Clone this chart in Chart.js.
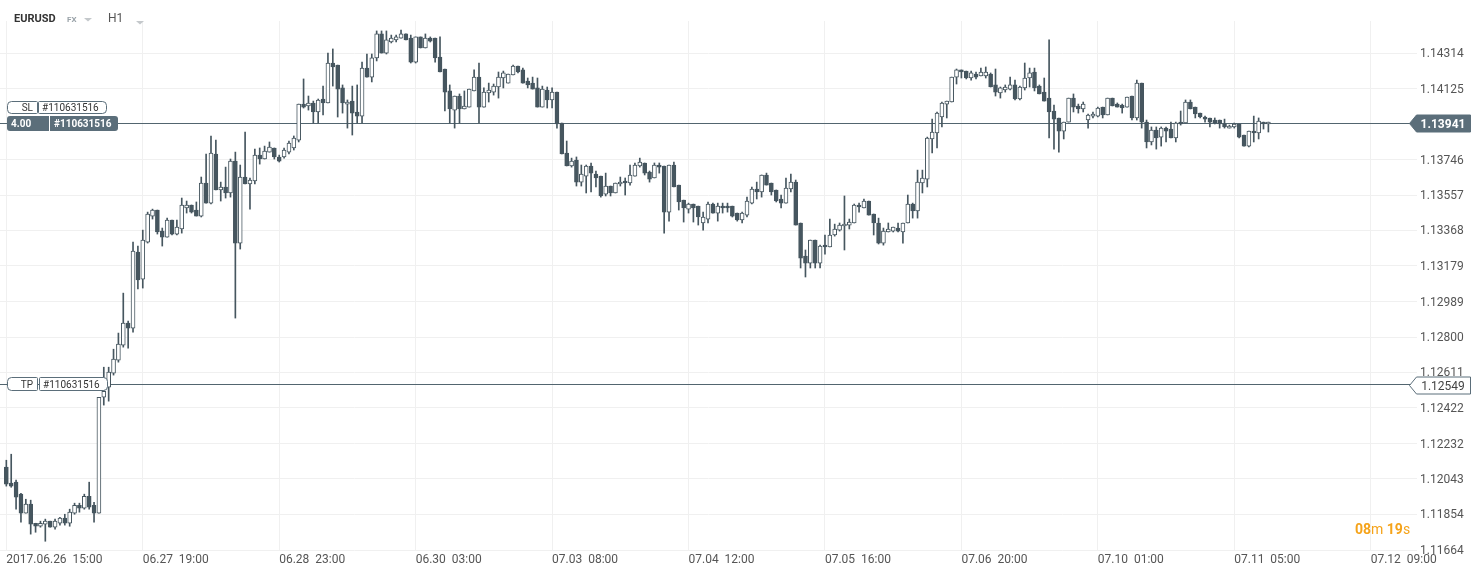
<!DOCTYPE html>
<html>
<head>
<meta charset="utf-8">
<title>EURUSD H1</title>
<script src="https://cdn.jsdelivr.net/npm/chart.js@4.4.1/dist/chart.umd.min.js"></script>
<style>
  html, body { margin: 0; padding: 0; background: #fff; }
</style>
</head>
<body>
<canvas id="chart" width="1481" height="575"></canvas>
<script>
// hourly candles, 2017.06.26 15:00 -> 07.11 ~07:00
const opens = [
  1.12106, 1.12021, 1.12026, 1.11962, 1.11861, 1.11909, 1.11807, 1.11791, 1.11802, 1.11818,
  1.11786, 1.11807, 1.11834, 1.11807, 1.11861, 1.11903, 1.11887, 1.11951, 1.11903, 1.11861,
  1.12479, 1.12533, 1.12607, 1.12677, 1.12757, 1.12874, 1.12847, 1.13253, 1.13109, 1.13306,
  1.13445, 1.13477, 1.13365, 1.13333, 1.13424, 1.13349, 1.13376, 1.13488, 1.13504, 1.13477,
  1.13445, 1.13621, 1.13514, 1.13776, 1.13584, 1.13600, 1.13568, 1.13738, 1.13301, 1.13653,
  1.13616, 1.13632, 1.13770, 1.13749, 1.13786, 1.13808, 1.13760, 1.13760, 1.13786, 1.13808,
  1.13850, 1.14042, 1.14032, 1.14048, 1.14000, 1.14069, 1.14048, 1.14261, 1.14250, 1.14128,
  1.14042, 1.14058, 1.14000, 1.13978, 1.14234, 1.14186, 1.14288, 1.14416, 1.14314, 1.14373,
  1.14384, 1.14394, 1.14416, 1.14394, 1.14266, 1.14400, 1.14341, 1.14394, 1.14394, 1.14293,
  1.14229, 1.14112, 1.14010, 1.14085, 1.14016, 1.14026, 1.14112, 1.14186, 1.14026, 1.14101,
  1.14106, 1.14133, 1.14181, 1.14154, 1.14197, 1.14245, 1.14224, 1.14165, 1.14154, 1.14128,
  1.14026, 1.14117, 1.14064, 1.14106, 1.13941, 1.13781, 1.13712, 1.13744, 1.13626, 1.13658,
  1.13712, 1.13669, 1.13658, 1.13562, 1.13605, 1.13568, 1.13616, 1.13632, 1.13621, 1.13658,
  1.13712, 1.13728, 1.13680, 1.13648, 1.13717, 1.13712, 1.13466, 1.13717, 1.13610, 1.13530,
  1.13482, 1.13509, 1.13498, 1.13408, 1.13429, 1.13509, 1.13461, 1.13498, 1.13498, 1.13498,
  1.13461, 1.13424, 1.13450, 1.13514, 1.13589, 1.13573, 1.13664, 1.13621, 1.13584, 1.13536,
  1.13514, 1.13589, 1.13626, 1.13408, 1.13232, 1.13194, 1.13317, 1.13194, 1.13290, 1.13280,
  1.13344, 1.13370, 1.13392, 1.13397, 1.13408, 1.13504, 1.13488, 1.13525, 1.13456, 1.13408,
  1.13301, 1.13360, 1.13365, 1.13381, 1.13360, 1.13408, 1.13509, 1.13472, 1.13621, 1.13642,
  1.13856, 1.13888, 1.13973, 1.14042, 1.14053, 1.14186, 1.14224, 1.14218, 1.14181, 1.14202,
  1.14192, 1.14192, 1.14202, 1.14144, 1.14101, 1.14117, 1.14122, 1.14144, 1.14069, 1.14128,
  1.14181, 1.14213, 1.14138, 1.14106, 1.14074, 1.14005, 1.13968, 1.13898, 1.13946, 1.14074,
  1.14032, 1.14016, 1.13957, 1.13978, 1.13978, 1.14026, 1.13984, 1.14074, 1.14042, 1.14037,
  1.14026, 1.14085, 1.13968, 1.14154, 1.13946, 1.13840, 1.13904, 1.13866, 1.13914, 1.13909,
  1.13861, 1.13946, 1.13941, 1.14053, 1.14026, 1.13994, 1.13973, 1.13968, 1.13957, 1.13957,
  1.13936, 1.13914, 1.13920, 1.13936, 1.13877, 1.13818, 1.13898, 1.13888, 1.13946, 1.13936
];
const highs = [
  1.12143, 1.12175, 1.12037, 1.11967, 1.11935, 1.11930, 1.11807, 1.11818, 1.11829, 1.11818,
  1.11829, 1.11839, 1.11855, 1.11882, 1.11914, 1.11914, 1.11962, 1.12026, 1.11919, 1.12479,
  1.12639, 1.12639, 1.12735, 1.12821, 1.13034, 1.12885, 1.13306, 1.13285, 1.13370, 1.13466,
  1.13482, 1.13477, 1.13381, 1.13434, 1.13424, 1.13424, 1.13541, 1.13525, 1.13504, 1.13520,
  1.13653, 1.13776, 1.13872, 1.13850, 1.13626, 1.13706, 1.13749, 1.13786, 1.13717, 1.13893,
  1.13648, 1.13802, 1.13808, 1.13818, 1.13840, 1.13808, 1.13770, 1.13808, 1.13845, 1.13872,
  1.14042, 1.14176, 1.14085, 1.14058, 1.14069, 1.14138, 1.14314, 1.14336, 1.14250, 1.14144,
  1.14064, 1.14138, 1.14144, 1.14266, 1.14309, 1.14309, 1.14432, 1.14432, 1.14432, 1.14410,
  1.14410, 1.14437, 1.14416, 1.14410, 1.14400, 1.14400, 1.14416, 1.14400, 1.14394, 1.14400,
  1.14229, 1.14144, 1.14085, 1.14096, 1.14112, 1.14122, 1.14224, 1.14261, 1.14128, 1.14154,
  1.14149, 1.14213, 1.14218, 1.14202, 1.14250, 1.14245, 1.14234, 1.14181, 1.14186, 1.14181,
  1.14138, 1.14133, 1.14128, 1.14106, 1.13941, 1.13845, 1.13754, 1.13760, 1.13717, 1.13717,
  1.13728, 1.13685, 1.13658, 1.13674, 1.13605, 1.13621, 1.13653, 1.13648, 1.13717, 1.13728,
  1.13754, 1.13728, 1.13685, 1.13728, 1.13728, 1.13712, 1.13717, 1.13733, 1.13610, 1.13530,
  1.13514, 1.13509, 1.13498, 1.13466, 1.13520, 1.13514, 1.13514, 1.13514, 1.13514, 1.13498,
  1.13461, 1.13466, 1.13546, 1.13600, 1.13626, 1.13664, 1.13674, 1.13621, 1.13584, 1.13557,
  1.13648, 1.13669, 1.13637, 1.13408, 1.13264, 1.13317, 1.13317, 1.13290, 1.13344, 1.13429,
  1.13402, 1.13408, 1.13552, 1.13429, 1.13509, 1.13514, 1.13536, 1.13525, 1.13456, 1.13434,
  1.13381, 1.13408, 1.13386, 1.13408, 1.13408, 1.13557, 1.13514, 1.13690, 1.13690, 1.13866,
  1.13962, 1.14000, 1.14053, 1.14058, 1.14186, 1.14229, 1.14224, 1.14218, 1.14218, 1.14213,
  1.14234, 1.14240, 1.14208, 1.14229, 1.14133, 1.14144, 1.14186, 1.14170, 1.14138, 1.14261,
  1.14234, 1.14234, 1.14144, 1.14181, 1.14384, 1.14037, 1.13968, 1.13946, 1.14074, 1.14096,
  1.14042, 1.14053, 1.13989, 1.14000, 1.14026, 1.14026, 1.14074, 1.14074, 1.14048, 1.14042,
  1.14080, 1.14085, 1.14170, 1.14154, 1.13957, 1.13920, 1.13920, 1.13920, 1.13920, 1.13946,
  1.13946, 1.14005, 1.14064, 1.14064, 1.14026, 1.13994, 1.13978, 1.13968, 1.13968, 1.13957,
  1.13962, 1.13930, 1.13941, 1.13936, 1.13877, 1.13898, 1.13978, 1.13968, 1.13946, 1.13946
];
const lows = [
  1.12005, 1.11999, 1.11882, 1.11813, 1.11861, 1.11749, 1.11759, 1.11786, 1.11711, 1.11786,
  1.11775, 1.11797, 1.11797, 1.11791, 1.11855, 1.11866, 1.11882, 1.11882, 1.11813, 1.11861,
  1.12437, 1.12458, 1.12597, 1.12666, 1.12746, 1.12741, 1.12826, 1.13056, 1.13061, 1.13301,
  1.13429, 1.13349, 1.13285, 1.13333, 1.13344, 1.13344, 1.13354, 1.13461, 1.13461, 1.13445,
  1.13440, 1.13514, 1.13509, 1.13584, 1.13525, 1.13541, 1.13546, 1.12901, 1.13269, 1.13616,
  1.13482, 1.13616, 1.13722, 1.13749, 1.13786, 1.13749, 1.13733, 1.13754, 1.13776, 1.13797,
  1.13840, 1.14021, 1.14010, 1.13941, 1.13941, 1.13984, 1.14048, 1.14138, 1.13973, 1.13994,
  1.13914, 1.13877, 1.13941, 1.13941, 1.14186, 1.14160, 1.14272, 1.14314, 1.14309, 1.14368,
  1.14373, 1.14394, 1.14384, 1.14261, 1.14261, 1.14341, 1.14341, 1.14373, 1.14266, 1.14213,
  1.14005, 1.13941, 1.13914, 1.13941, 1.14016, 1.14026, 1.14112, 1.13941, 1.14026, 1.14053,
  1.14090, 1.14074, 1.14128, 1.14154, 1.14197, 1.14208, 1.14154, 1.14128, 1.14122, 1.14026,
  1.14026, 1.14021, 1.14021, 1.13914, 1.13776, 1.13712, 1.13706, 1.13605, 1.13605, 1.13568,
  1.13573, 1.13600, 1.13546, 1.13552, 1.13552, 1.13568, 1.13605, 1.13557, 1.13610, 1.13658,
  1.13706, 1.13664, 1.13626, 1.13648, 1.13674, 1.13354, 1.13418, 1.13600, 1.13477, 1.13413,
  1.13461, 1.13413, 1.13397, 1.13370, 1.13408, 1.13461, 1.13418, 1.13461, 1.13466, 1.13440,
  1.13418, 1.13408, 1.13440, 1.13509, 1.13536, 1.13546, 1.13610, 1.13557, 1.13520, 1.13488,
  1.13514, 1.13573, 1.13397, 1.13168, 1.13120, 1.13168, 1.13168, 1.13168, 1.13242, 1.13280,
  1.13338, 1.13365, 1.13264, 1.13376, 1.13408, 1.13466, 1.13488, 1.13450, 1.13344, 1.13296,
  1.13290, 1.13360, 1.13360, 1.13360, 1.13301, 1.13408, 1.13434, 1.13434, 1.13568, 1.13600,
  1.13781, 1.13808, 1.13920, 1.13968, 1.14053, 1.14149, 1.14181, 1.14176, 1.14170, 1.14176,
  1.14192, 1.14181, 1.14133, 1.14085, 1.14074, 1.14106, 1.14117, 1.14064, 1.14064, 1.14117,
  1.14133, 1.14112, 1.14096, 1.14058, 1.13861, 1.13802, 1.13786, 1.13856, 1.13946, 1.14000,
  1.13994, 1.14000, 1.13914, 1.13968, 1.13973, 1.13968, 1.13984, 1.14032, 1.14026, 1.13994,
  1.14026, 1.13957, 1.13957, 1.13914, 1.13808, 1.13824, 1.13802, 1.13818, 1.13840, 1.13861,
  1.13840, 1.13930, 1.13941, 1.14016, 1.13968, 1.13968, 1.13946, 1.13920, 1.13936, 1.13914,
  1.13914, 1.13914, 1.13914, 1.13861, 1.13818, 1.13813, 1.13840, 1.13856, 1.13909, 1.13893
];
const closes = [
  1.12015, 1.12005, 1.11946, 1.11861, 1.11909, 1.11802, 1.11791, 1.11807, 1.11818, 1.11786,
  1.11818, 1.11834, 1.11807, 1.11866, 1.11903, 1.11887, 1.11951, 1.11893, 1.11861, 1.12479,
  1.12511, 1.12613, 1.12682, 1.12762, 1.12874, 1.12847, 1.13258, 1.13104, 1.13317, 1.13456,
  1.13477, 1.13360, 1.13333, 1.13424, 1.13349, 1.13386, 1.13504, 1.13504, 1.13466, 1.13445,
  1.13621, 1.13514, 1.13781, 1.13584, 1.13600, 1.13568, 1.13738, 1.13301, 1.13653, 1.13616,
  1.13637, 1.13770, 1.13749, 1.13792, 1.13813, 1.13760, 1.13738, 1.13797, 1.13834, 1.13861,
  1.14042, 1.14026, 1.14048, 1.14000, 1.14064, 1.14048, 1.14261, 1.14240, 1.14122, 1.14048,
  1.14053, 1.13994, 1.13978, 1.14234, 1.14186, 1.14288, 1.14416, 1.14314, 1.14384, 1.14394,
  1.14400, 1.14416, 1.14384, 1.14266, 1.14400, 1.14341, 1.14394, 1.14378, 1.14288, 1.14213,
  1.14106, 1.14016, 1.14085, 1.14016, 1.14032, 1.14122, 1.14186, 1.14026, 1.14106, 1.14117,
  1.14138, 1.14186, 1.14208, 1.14202, 1.14245, 1.14213, 1.14154, 1.14144, 1.14122, 1.14026,
  1.14122, 1.14064, 1.14106, 1.13936, 1.13776, 1.13712, 1.13738, 1.13626, 1.13669, 1.13712,
  1.13674, 1.13648, 1.13552, 1.13605, 1.13568, 1.13621, 1.13626, 1.13621, 1.13664, 1.13717,
  1.13733, 1.13674, 1.13642, 1.13717, 1.13706, 1.13466, 1.13717, 1.13600, 1.13520, 1.13488,
  1.13509, 1.13488, 1.13440, 1.13440, 1.13509, 1.13461, 1.13498, 1.13488, 1.13488, 1.13445,
  1.13424, 1.13461, 1.13525, 1.13589, 1.13573, 1.13664, 1.13610, 1.13573, 1.13525, 1.13514,
  1.13594, 1.13626, 1.13397, 1.13221, 1.13194, 1.13317, 1.13194, 1.13285, 1.13280, 1.13344,
  1.13376, 1.13397, 1.13402, 1.13413, 1.13504, 1.13493, 1.13525, 1.13450, 1.13408, 1.13301,
  1.13365, 1.13376, 1.13386, 1.13365, 1.13408, 1.13509, 1.13472, 1.13626, 1.13648, 1.13861,
  1.13893, 1.13994, 1.14048, 1.14058, 1.14186, 1.14224, 1.14213, 1.14181, 1.14208, 1.14186,
  1.14213, 1.14213, 1.14133, 1.14106, 1.14128, 1.14133, 1.14144, 1.14069, 1.14133, 1.14181,
  1.14208, 1.14128, 1.14096, 1.14058, 1.14000, 1.13962, 1.13898, 1.13946, 1.14074, 1.14026,
  1.14016, 1.14042, 1.13984, 1.13989, 1.14021, 1.13984, 1.14074, 1.14032, 1.14026, 1.14021,
  1.14080, 1.13968, 1.14154, 1.13946, 1.13840, 1.13904, 1.13861, 1.13914, 1.13898, 1.13861,
  1.13941, 1.13936, 1.14053, 1.14016, 1.13989, 1.13973, 1.13962, 1.13946, 1.13941, 1.13936,
  1.13920, 1.13925, 1.13936, 1.13866, 1.13818, 1.13898, 1.13888, 1.13952, 1.13936, 1.13941
];

// time axis: one label every 28 candles
const timeTicks = [0, 28, 56, 84, 112, 140, 168, 196, 224, 252, 280];
const timeLabels = ['2017.06.26  15:00', '06.27  19:00', '06.28  23:00', '06.30  03:00', '07.03  08:00',
  '07.04  12:00', '07.05  16:00', '07.06  20:00', '07.10  01:00', '07.11  05:00', '07.12  09:00'];
const priceTicks = [1.14314, 1.14125, 1.13746, 1.13557, 1.13368, 1.13179, 1.12989, 1.12800,
  1.12611, 1.12422, 1.12232, 1.12043, 1.11854, 1.11664];

const symbol = 'EURUSD';
const orderId = '#110631516';
const volume = '4.00';
const slLevel = 1.13941;
const tpLevel = 1.12549;

const ink = '#46565f';
const tagInk = '#5b6e7a';
const font = 'Roboto, "Open Sans", Arial, sans-serif';

const idx = opens.map((_, i) => i);
const wicks = idx.map(i => ({x: i, y: [lows[i], highs[i]]}));
const bodies = idx.map(i => ({x: i, y: [opens[i], closes[i]]}));

function tagBox(ctx, x, y, w, h, radii, fill, stroke) {
    ctx.beginPath();
    ctx.roundRect(x, y, w, h, radii);
    ctx.fillStyle = fill;
    ctx.fill();
    if (stroke) {
        ctx.strokeStyle = stroke;
        ctx.lineWidth = 1;
        ctx.stroke();
    }
}

function priceTag(ctx, y, text, filled) {
    ctx.beginPath();
    ctx.moveTo(1409.5, y);
    ctx.lineTo(1416.5, y - 8.5);
    ctx.lineTo(1470.5, y - 8.5);
    ctx.lineTo(1470.5, y + 8.5);
    ctx.lineTo(1416.5, y + 8.5);
    ctx.closePath();
    ctx.fillStyle = filled ? tagInk : '#fff';
    ctx.fill();
    ctx.strokeStyle = tagInk;
    ctx.lineWidth = 1;
    ctx.stroke();
    ctx.fillStyle = filled ? '#fff' : '#444';
    ctx.font = (filled ? 'bold ' : '') + '12px ' + font;
    ctx.textAlign = 'center';
    ctx.textBaseline = 'middle';
    ctx.fillText(text, 1443, y + 1);
}

const overlay = {
    id: 'overlay',
    beforeDatasetsDraw(chart) {
        const ctx = chart.ctx;
        const y = chart.scales.y;
        ctx.save();
        ctx.strokeStyle = '#52656f';
        ctx.lineWidth = 1;
        [slLevel, tpLevel].forEach(v => {
            const py = Math.round(y.getPixelForValue(v)) + 0.5;
            ctx.beginPath();
            ctx.moveTo(0, py);
            ctx.lineTo(1412, py);
            ctx.stroke();
        });
        ctx.restore();
    },
    afterDraw(chart) {
        const ctx = chart.ctx;
        const y = chart.scales.y;
        const slY = Math.round(y.getPixelForValue(slLevel));
        const tpY = Math.round(y.getPixelForValue(tpLevel));
        ctx.save();

        // header
        ctx.textBaseline = 'middle';
        ctx.textAlign = 'left';
        ctx.fillStyle = '#333';
        ctx.font = 'bold 11px ' + font;
        ctx.fillText(symbol, 14, 19);
        ctx.fillStyle = '#9aa3a9';
        ctx.font = 'bold 8px ' + font;
        ctx.fillText('FX', 67, 20);
        ctx.fillStyle = '#555';
        ctx.font = '12px ' + font;
        ctx.fillText('H1', 108, 19);
        ctx.fillStyle = '#c4c8cb';
        [[84, 18], [136, 21]].forEach(([tx, ty]) => {
            ctx.beginPath();
            ctx.moveTo(tx, ty);
            ctx.lineTo(tx + 8, ty);
            ctx.lineTo(tx + 4, ty + 3.5);
            ctx.closePath();
            ctx.fill();
        });

        // SL tag
        ctx.font = '10px ' + font;
        tagBox(ctx, 7.5, slY - 21.5, 30, 12, [4, 1, 1, 4], '#fff', tagInk);
        tagBox(ctx, 38.5, slY - 21.5, 68, 12, [1, 4, 4, 1], '#fff', tagInk);
        ctx.fillStyle = '#333';
        ctx.textAlign = 'right';
        ctx.fillText('SL', 33, slY - 15);
        ctx.textAlign = 'left';
        ctx.fillText(orderId, 42, slY - 15);

        // position tag
        tagBox(ctx, 7, slY - 7, 111, 15, 3, tagInk, null);
        ctx.fillStyle = '#fff';
        ctx.fillRect(49, slY - 7, 1, 15);
        ctx.font = 'bold 10px ' + font;
        ctx.fillText(volume, 11, slY + 1);
        ctx.fillText(orderId, 54, slY + 1);

        // TP tag
        ctx.font = '10px ' + font;
        tagBox(ctx, 7.5, tpY - 6.5, 30, 13, [4, 1, 1, 4], '#fff', tagInk);
        tagBox(ctx, 39.5, tpY - 6.5, 68, 13, [1, 4, 4, 1], '#fff', tagInk);
        ctx.fillStyle = '#333';
        ctx.textAlign = 'right';
        ctx.fillText('TP', 33, tpY + 1);
        ctx.textAlign = 'left';
        ctx.fillText(orderId, 43, tpY + 1);

        // price tags on the axis
        priceTag(ctx, slY + 0.5, closes[closes.length - 1].toFixed(5), true);
        priceTag(ctx, tpY + 1.5, tpLevel.toFixed(5), false);

        // candle countdown
        ctx.textAlign = 'left';
        ctx.textBaseline = 'alphabetic';
        ctx.fillStyle = '#f5a31a';
        let tx = 1355;
        [['08', 'bold 14px '], ['m ', '14px '], ['19', 'bold 14px '], ['s', '14px ']].forEach(([t, f]) => {
            ctx.font = f + font;
            ctx.fillText(t, tx, 534);
            tx += ctx.measureText(t).width;
        });
        ctx.restore();
    }
};

new Chart(document.getElementById('chart'), {
    type: 'bar',
    data: {
        datasets: [
            {
                data: bodies,
                grouped: false,
                barThickness: 4,
                minBarLength: 2,
                borderWidth: 1,
                borderSkipped: false,
                borderColor: ink,
                backgroundColor: c => closes[c.dataIndex] >= opens[c.dataIndex] ? '#fff' : ink,
                order: 1
            },
            {
                data: wicks,
                grouped: false,
                barThickness: 1,
                borderWidth: 0,
                backgroundColor: ink,
                order: 2
            }
        ]
    },
    options: {
        responsive: false,
        animation: false,
        devicePixelRatio: 1,
        layout: {padding: {top: 21, left: 0, right: 0, bottom: 0}},
        plugins: {legend: {display: false}, tooltip: {enabled: false}},
        scales: {
            x: {
                type: 'linear',
                offset: false,
                min: -1.3,
                max: 289.5,
                afterBuildTicks: s => { s.ticks = timeTicks.map(v => ({value: v})); },
                afterFit: s => { s.height = 24; s.paddingLeft = 0; s.paddingRight = 0; },
                ticks: {
                    autoSkip: false,
                    maxRotation: 0,
                    align: 'start',
                    padding: 2,
                    color: '#555',
                    font: {family: font, size: 12},
                    callback: (v, i) => timeLabels[i]
                },
                grid: {color: '#f0f0f0', drawTicks: false, offset: false},
                border: {display: false}
            },
            y: {
                position: 'right',
                min: 1.11659,
                max: 1.14485,
                afterBuildTicks: s => { s.ticks = priceTicks.map(v => ({value: v})); },
                afterFit: s => { s.width = 64; },
                ticks: {
                    padding: 3,
                    labelOffset: 1,
                    color: '#555',
                    font: {family: font, size: 12},
                    callback: v => v.toFixed(5)
                },
                grid: {color: '#f0f0f0', drawTicks: false},
                border: {display: false}
            }
        }
    },
    plugins: [overlay]
});
</script>
</body>
</html>
